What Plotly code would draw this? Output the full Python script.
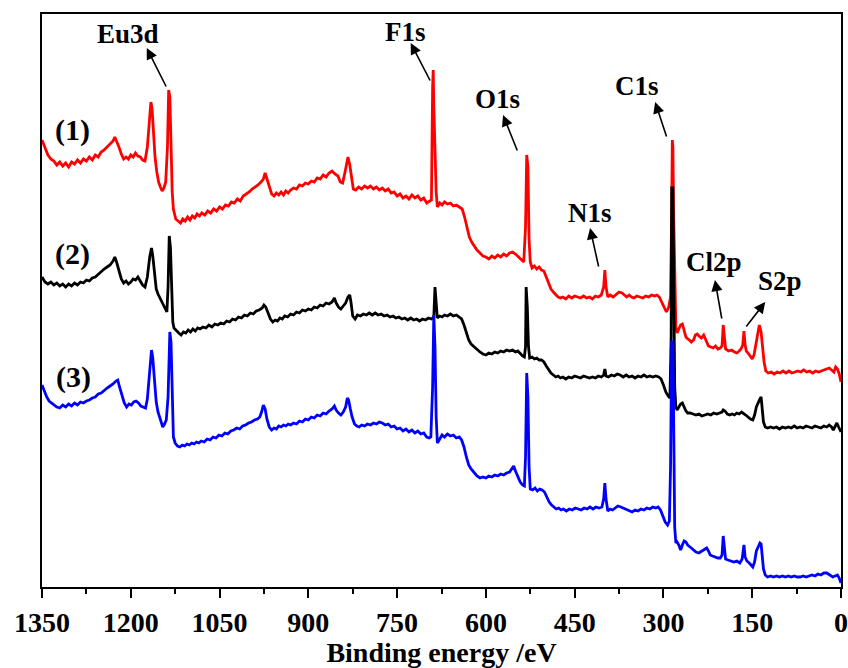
import plotly.graph_objects as go

# XPS survey spectra: (binding energy / eV, intensity / a.u. with vertical offset)
spectrum_1 = [
    (1350, 447), (1345, 440), (1340, 432), (1335, 428), (1330, 426), (1325, 422), (1320, 425), (1315, 421),
    (1310, 424), (1305, 420), (1300, 425), (1295, 423), (1290, 427), (1285, 424), (1280, 428), (1275, 426),
    (1270, 430), (1265, 427), (1260, 432), (1255, 430), (1250, 435), (1245, 437), (1240, 440), (1235, 443),
    (1230, 446), (1227, 450), (1224, 446), (1220, 440), (1216, 433), (1212, 428), (1208, 430), (1204, 428),
    (1200, 432), (1196, 430), (1192, 434), (1188, 431), (1184, 430), (1180, 427), (1176, 426), (1172, 440),
    (1168, 470), (1166, 485), (1164, 478), (1162, 460), (1159, 430), (1156, 415), (1153, 405), (1150, 400),
    (1147, 396), (1144, 399), (1141, 405), (1138, 440), (1136, 497), (1134, 490), (1132, 430), (1130, 395),
    (1128, 378), (1124, 368), (1120, 366), (1116, 364), (1112, 368), (1108, 366), (1104, 370), (1100, 367),
    (1096, 371), (1092, 369), (1088, 373), (1084, 371), (1080, 374), (1075, 372), (1070, 376), (1065, 374),
    (1060, 378), (1055, 376), (1050, 380), (1045, 378), (1040, 382), (1035, 381), (1030, 385), (1025, 384),
    (1020, 388), (1015, 386), (1010, 391), (1005, 393), (1000, 395), (995, 398), (990, 400), (985, 402),
    (980, 405), (976, 408), (973, 414), (970, 408), (966, 400), (962, 393), (958, 391), (954, 394),
    (950, 392), (946, 395), (942, 392), (938, 396), (934, 394), (930, 397), (925, 399), (920, 398),
    (915, 402), (910, 401), (905, 404), (900, 403), (895, 406), (890, 405), (885, 409), (880, 408),
    (875, 412), (870, 410), (865, 414), (860, 416), (855, 413), (850, 411), (846, 405), (842, 404),
    (838, 415), (835, 425), (833, 430), (830, 422), (827, 408), (824, 398), (820, 397), (815, 400),
    (810, 398), (805, 401), (800, 399), (795, 401), (790, 398), (785, 400), (780, 397), (775, 399),
    (770, 396), (765, 398), (760, 394), (755, 395), (750, 391), (745, 393), (740, 389), (735, 391),
    (730, 388), (725, 392), (720, 389), (715, 391), (710, 387), (705, 389), (700, 384), (695, 386),
    (692, 387), (690, 500), (689, 517), (688, 480), (686, 437), (684, 395), (682, 380), (678, 384),
    (674, 382), (670, 385), (665, 383), (660, 384), (655, 381), (650, 382), (645, 380), (640, 378),
    (636, 370), (632, 360), (628, 350), (624, 345), (620, 341), (615, 337), (610, 334), (605, 331),
    (600, 330), (595, 328), (590, 331), (585, 329), (580, 332), (575, 330), (570, 333), (565, 331),
    (560, 334), (555, 335), (550, 333), (545, 330), (540, 328), (536, 325), (533, 360), (531, 432),
    (529, 420), (527, 347), (525, 325), (522, 319), (518, 321), (514, 318), (510, 320), (506, 317),
    (502, 316), (498, 310), (494, 303), (490, 298), (486, 295), (482, 292), (478, 290), (474, 289),
    (470, 290), (465, 288), (460, 291), (455, 289), (450, 291), (445, 290), (440, 289), (435, 291),
    (430, 289), (425, 290), (420, 288), (415, 291), (410, 290), (405, 292), (401, 300), (399, 317),
    (397, 300), (394, 290), (390, 292), (385, 290), (380, 293), (375, 295), (370, 294), (366, 292),
    (362, 290), (358, 292), (354, 290), (350, 289), (345, 291), (340, 290), (335, 289), (330, 291),
    (325, 290), (320, 292), (315, 291), (311, 292), (307, 290), (303, 285), (299, 279), (295, 275),
    (291, 280), (288, 290), (286, 380), (285, 447), (284, 440), (283, 380), (281, 300), (279, 260),
    (277, 254), (274, 258), (271, 262), (268, 263), (265, 255), (262, 250), (259, 248), (256, 247),
    (253, 245), (249, 247), (246, 252), (243, 253), (240, 251), (236, 249), (232, 252), (228, 247),
    (224, 241), (220, 240), (216, 239), (212, 241), (208, 238), (204, 239), (201, 241), (199, 262),
    (197, 250), (195, 238), (190, 236), (185, 237), (180, 235), (176, 234), (172, 236), (169, 238),
    (166, 242), (164, 256), (162, 242), (160, 236), (157, 234), (154, 231), (150, 228), (147, 232),
    (144, 242), (141, 250), (138, 262), (135, 255), (133, 240), (130, 225), (127, 216), (123, 214),
    (118, 215), (113, 213), (108, 215), (103, 214), (98, 216), (93, 214), (88, 216), (83, 214),
    (78, 215), (73, 216), (68, 215), (63, 217), (58, 215), (53, 216), (48, 214), (43, 216),
    (38, 215), (33, 216), (28, 217), (24, 218), (20, 219), (16, 217), (12, 215), (9, 220),
    (6, 218), (3, 213), (0, 205),
]

spectrum_2 = [
    (1350, 310), (1345, 305), (1340, 303), (1335, 305), (1330, 302), (1325, 304), (1320, 301), (1315, 303),
    (1310, 300), (1305, 303), (1300, 301), (1295, 304), (1290, 302), (1285, 305), (1280, 304), (1275, 307),
    (1270, 306), (1265, 309), (1260, 310), (1255, 313), (1250, 315), (1245, 318), (1240, 320), (1235, 322),
    (1230, 326), (1227, 330), (1224, 325), (1220, 317), (1216, 308), (1212, 304), (1208, 306), (1204, 303),
    (1200, 305), (1196, 308), (1192, 307), (1188, 310), (1184, 306), (1180, 302), (1176, 300), (1172, 310),
    (1168, 330), (1165, 339), (1163, 332), (1160, 312), (1157, 298), (1154, 293), (1150, 288), (1146, 282),
    (1142, 277), (1139, 275), (1137, 300), (1135, 351), (1133, 340), (1131, 290), (1129, 265), (1127, 259),
    (1123, 256), (1119, 254), (1115, 252), (1111, 255), (1107, 254), (1103, 257), (1099, 255), (1095, 258),
    (1091, 256), (1087, 259), (1083, 258), (1078, 260), (1073, 259), (1068, 262), (1063, 260), (1058, 263),
    (1053, 262), (1048, 264), (1043, 263), (1038, 266), (1033, 265), (1028, 268), (1023, 267), (1018, 270),
    (1013, 269), (1008, 272), (1003, 271), (998, 274), (993, 273), (988, 276), (983, 277), (978, 279),
    (975, 282), (972, 280), (968, 274), (964, 268), (960, 265), (956, 267), (952, 266), (948, 269),
    (944, 268), (940, 271), (935, 270), (930, 273), (925, 272), (920, 275), (915, 274), (910, 277),
    (905, 276), (900, 278), (895, 277), (890, 280), (885, 279), (880, 282), (875, 281), (870, 284),
    (865, 283), (860, 285), (856, 289), (853, 284), (849, 280), (845, 278), (841, 281), (837, 284),
    (833, 290), (830, 292), (828, 285), (825, 271), (821, 268), (817, 272), (812, 271), (807, 273),
    (802, 272), (797, 274), (792, 272), (787, 274), (782, 272), (777, 273), (772, 271), (767, 272),
    (762, 270), (757, 271), (752, 269), (747, 270), (742, 268), (737, 269), (732, 267), (727, 269),
    (722, 267), (717, 268), (712, 266), (707, 268), (702, 267), (697, 269), (692, 268), (688, 270),
    (686, 300), (684, 285), (682, 269), (678, 271), (674, 270), (670, 272), (665, 271), (660, 273),
    (655, 271), (650, 272), (645, 270), (641, 268), (637, 262), (633, 254), (629, 247), (625, 243),
    (620, 240), (615, 237), (610, 235), (605, 233), (600, 232), (595, 234), (590, 233), (585, 235),
    (580, 234), (575, 236), (570, 235), (565, 237), (560, 236), (555, 237), (550, 235), (546, 236),
    (542, 233), (538, 231), (535, 230), (533, 240), (532, 300), (530, 280), (528, 240), (526, 229),
    (522, 230), (518, 228), (514, 229), (510, 227), (506, 227), (502, 225), (498, 221), (494, 217),
    (490, 214), (486, 212), (482, 210), (478, 211), (474, 209), (470, 210), (465, 208), (460, 210),
    (455, 209), (450, 211), (445, 210), (440, 209), (435, 211), (430, 210), (425, 209), (420, 210),
    (415, 209), (410, 211), (405, 210), (401, 212), (399, 218), (397, 211), (393, 210), (388, 212),
    (383, 211), (378, 213), (373, 212), (368, 210), (363, 212), (358, 210), (353, 211), (348, 209),
    (343, 211), (338, 210), (333, 212), (328, 210), (323, 211), (318, 210), (313, 211), (308, 210),
    (304, 208), (300, 202), (296, 195), (292, 191), (289, 189), (287, 250), (286, 399), (284, 399),
    (283, 300), (281, 200), (279, 180), (277, 177), (274, 180), (271, 183), (268, 184), (265, 180),
    (262, 176), (259, 174), (255, 174), (250, 173), (245, 172), (240, 173), (235, 171), (230, 172),
    (225, 173), (220, 172), (215, 174), (210, 173), (205, 174), (201, 175), (199, 177), (196, 176),
    (192, 173), (188, 172), (184, 173), (180, 172), (176, 174), (172, 173), (168, 175), (165, 174),
    (161, 172), (157, 170), (153, 168), (149, 167), (146, 172), (143, 180), (140, 185), (137, 188),
    (135, 190), (133, 180), (131, 165), (128, 160), (124, 159), (119, 160), (114, 159), (109, 160),
    (104, 158), (99, 160), (94, 159), (89, 160), (84, 159), (79, 161), (74, 159), (69, 160),
    (64, 159), (59, 161), (54, 160), (49, 159), (44, 161), (39, 160), (34, 159), (29, 161),
    (24, 160), (20, 162), (16, 160), (13, 157), (10, 160), (7, 164), (4, 160), (0, 155),
]

spectrum_3 = [
    (1350, 202), (1346, 195), (1342, 190), (1338, 186), (1334, 184), (1330, 182), (1325, 180), (1320, 179),
    (1315, 182), (1310, 180), (1305, 183), (1300, 181), (1295, 184), (1290, 182), (1285, 185), (1280, 184),
    (1275, 186), (1270, 187), (1265, 189), (1260, 190), (1255, 193), (1250, 194), (1245, 197), (1240, 199),
    (1235, 201), (1230, 203), (1225, 206), (1222, 207), (1219, 200), (1215, 192), (1211, 184), (1207, 180),
    (1203, 183), (1199, 182), (1195, 185), (1191, 186), (1187, 184), (1183, 181), (1179, 180), (1175, 179),
    (1172, 188), (1168, 215), (1165, 237), (1163, 230), (1160, 205), (1157, 185), (1154, 175), (1150, 168),
    (1146, 160), (1143, 163), (1140, 167), (1137, 190), (1134, 255), (1132, 245), (1130, 190), (1128, 150),
    (1125, 144), (1121, 141), (1117, 140), (1113, 142), (1109, 141), (1105, 143), (1101, 142), (1097, 144),
    (1093, 143), (1089, 145), (1085, 144), (1081, 146), (1076, 145), (1071, 148), (1066, 147), (1061, 150),
    (1056, 149), (1051, 152), (1046, 151), (1041, 154), (1036, 153), (1031, 156), (1026, 157), (1021, 159),
    (1016, 158), (1011, 161), (1006, 162), (1001, 164), (996, 165), (991, 167), (986, 168), (982, 170),
    (979, 175), (976, 182), (973, 178), (970, 168), (966, 160), (962, 157), (958, 159), (954, 158),
    (950, 161), (946, 160), (942, 162), (938, 161), (934, 163), (930, 162), (925, 164), (920, 163),
    (915, 166), (910, 165), (905, 168), (900, 167), (895, 170), (890, 169), (885, 172), (880, 171),
    (875, 174), (870, 173), (865, 176), (860, 178), (856, 181), (853, 177), (849, 174), (845, 172),
    (841, 175), (837, 180), (834, 189), (832, 187), (829, 178), (826, 170), (822, 163), (818, 161),
    (814, 160), (810, 162), (805, 161), (800, 163), (795, 162), (790, 164), (785, 163), (780, 165),
    (775, 164), (770, 162), (765, 163), (760, 160), (755, 161), (750, 158), (745, 159), (740, 156),
    (735, 158), (730, 155), (725, 157), (720, 154), (715, 156), (710, 153), (705, 154), (700, 150),
    (696, 149), (693, 150), (690, 200), (688, 272), (686, 240), (684, 170), (682, 144), (678, 148),
    (674, 152), (670, 150), (665, 153), (660, 151), (655, 152), (650, 149), (645, 150), (641, 147),
    (637, 140), (633, 130), (629, 122), (625, 118), (620, 114), (615, 111), (610, 109), (605, 110),
    (600, 109), (595, 111), (590, 110), (585, 112), (580, 111), (575, 113), (570, 112), (565, 114),
    (560, 115), (556, 118), (553, 121), (550, 116), (546, 110), (542, 105), (538, 102), (535, 101),
    (533, 130), (531, 214), (529, 190), (527, 120), (525, 98), (521, 97), (517, 99), (513, 96),
    (509, 98), (505, 97), (501, 95), (497, 90), (493, 85), (489, 82), (485, 80), (481, 78),
    (477, 79), (473, 77), (469, 78), (464, 76), (459, 78), (454, 77), (449, 79), (444, 78),
    (439, 77), (434, 79), (429, 78), (424, 80), (419, 78), (414, 80), (409, 79), (404, 80),
    (401, 88), (399, 104), (397, 88), (394, 76), (390, 78), (386, 77), (382, 79), (377, 81),
    (372, 80), (368, 79), (363, 77), (358, 76), (353, 75), (348, 77), (343, 76), (338, 78),
    (333, 77), (328, 79), (323, 78), (318, 80), (313, 79), (309, 80), (305, 77), (301, 71),
    (297, 65), (293, 62), (290, 66), (288, 120), (286, 245), (284, 245), (283, 150), (281, 60),
    (279, 44), (277, 45), (274, 42), (271, 37), (268, 42), (265, 46), (262, 45), (259, 42),
    (255, 40), (250, 37), (245, 35), (240, 34), (235, 36), (231, 37), (227, 39), (224, 36),
    (221, 32), (217, 31), (212, 30), (208, 29), (204, 29), (201, 32), (199, 51), (197, 38),
    (195, 28), (191, 27), (186, 26), (181, 25), (176, 26), (171, 24), (167, 28), (164, 42),
    (162, 30), (159, 26), (155, 24), (151, 21), (149, 20), (146, 25), (143, 36), (140, 40),
    (137, 44), (135, 43), (133, 30), (131, 18), (128, 12), (124, 10), (119, 11), (114, 10),
    (109, 11), (104, 10), (99, 11), (94, 10), (89, 11), (84, 10), (79, 11), (74, 10),
    (69, 10), (64, 11), (59, 10), (54, 11), (49, 12), (44, 11), (39, 13), (34, 12),
    (29, 14), (24, 14), (19, 12), (14, 10), (10, 11), (6, 12), (3, 9), (0, 4),
]

series_colors = ["#ff0000", "#000000", "#0000ff"]

# Sample labels beside the left end of each trace
sample_labels = ["(1)", "(2)", "(3)"]
sample_label_pos = [(1299, 457), (1299, 333), (1297, 210)]

# Peak assignments: label position, arrow head and arrow tail (data units)
peak_names = ["Eu3d", "F1s", "O1s", "C1s", "N1s", "Cl2p", "S2p"]
peak_text_pos = [(1205, 553), (735, 555), (580, 488), (345, 501), (424, 374), (215, 325), (103, 306)]
arrow_heads = [(1173, 539), (727, 544), (571, 472), (314, 485), (424, 359), (213, 307), (128, 285)]
arrow_tails = [(1139, 499), (693, 505), (546, 435), (294, 449), (409, 319), (201, 267), (162, 259)]

fig = go.Figure()
for spectrum, color in zip([spectrum_1, spectrum_2, spectrum_3], series_colors):
    be = [p[0] for p in spectrum]
    inten = [p[1] for p in spectrum]
    fig.add_trace(go.Scatter(x=be, y=inten, mode="lines",
                             line=dict(color=color, width=2.8), showlegend=False))

label_font = dict(family="Liberation Serif", size=27, color="black", weight="bold")

annotations = []
for txt, (xx, yy) in zip(sample_labels, sample_label_pos):
    annotations.append(dict(x=xx, y=yy, text=txt, showarrow=False,
                            font=dict(label_font, size=30),
                            xanchor="center", yanchor="middle"))
for txt, (xx, yy) in zip(peak_names, peak_text_pos):
    annotations.append(dict(x=xx, y=yy, text=txt, showarrow=False, font=label_font,
                            xanchor="center", yanchor="middle"))
for (hx, hy), (tx, ty) in zip(arrow_heads, arrow_tails):
    annotations.append(dict(x=hx, y=hy, ax=tx, ay=ty, xref="x", yref="y", axref="x", ayref="y",
                            text="", showarrow=True, arrowhead=2, arrowsize=1.4, arrowwidth=1.6,
                            arrowcolor="black"))

fig.update_layout(
    width=848, height=668,
    margin=dict(l=42, r=7, t=14, b=81, autoexpand=False),
    paper_bgcolor="white", plot_bgcolor="white",
    annotations=annotations,
)
fig.update_xaxes(
    range=[1350, 0], tickmode="array", automargin=False,
    tickvals=[1350, 1200, 1050, 900, 750, 600, 450, 300, 150, 0],
    ticks="outside", ticklen=9, tickwidth=2, tickcolor="black",
    minor=dict(tickvals=[1275, 1125, 975, 825, 675, 525, 375, 225, 75],
               ticks="outside", ticklen=5, tickwidth=2, tickcolor="black"),
    showline=True, linecolor="black", linewidth=2, mirror=True,
    showgrid=False, zeroline=False,
    tickfont=dict(family="Liberation Serif", size=28, color="black", weight="bold"),
    title=dict(text="Binding energy /eV", standoff=2,
               font=dict(family="Liberation Serif", size=28, color="black", weight="bold")),
)
fig.update_yaxes(
    range=[0, 573], showticklabels=False, ticks="", automargin=False,
    showline=True, linecolor="black", linewidth=2, mirror=True,
    showgrid=False, zeroline=False,
)

fig.write_html("out.html")
